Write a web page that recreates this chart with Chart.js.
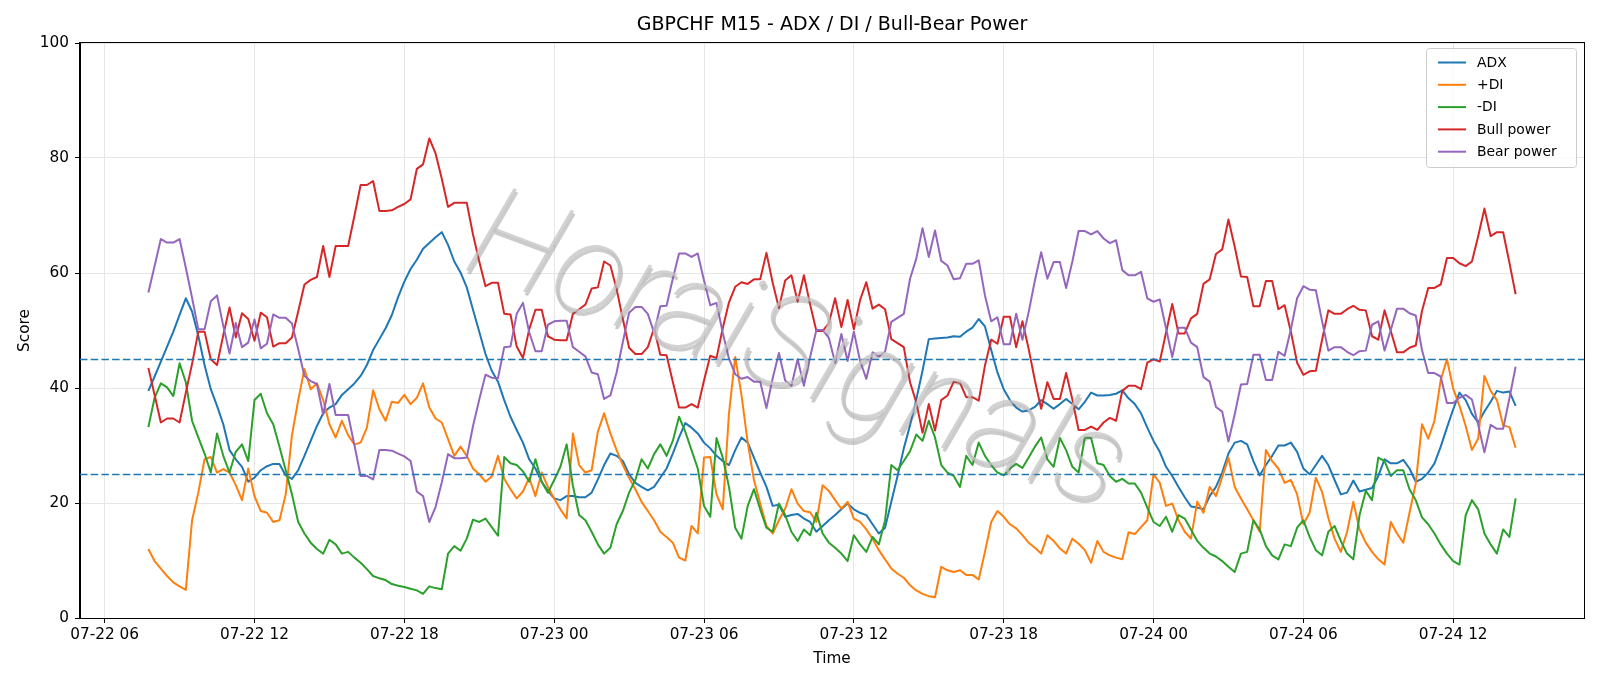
<!DOCTYPE html>
<html>
<head>
<meta charset="utf-8">
<title>GBPCHF M15 - ADX / DI / Bull-Bear Power</title>
<script src="https://cdn.jsdelivr.net/npm/chart.js@4.4.1/dist/chart.umd.min.js"></script>
<style>
  html, body { margin: 0; padding: 0; background: #fff; }
  #wrap { width: 1600px; height: 686px; }
</style>
</head>
<body>
<div id="wrap"><canvas id="chart" width="1600" height="686"></canvas></div>
<script>
// M15 bars from 07-22 07:45 to 07-24 14:30 (x = minutes after 07-22 00:00)
const startMinute = 7 * 60 + 45;
const barMinutes = 15;

const adx = [
  39.5, 42, 44.6, 47.2, 49.8, 52.7, 55.6, 53.3, 49.1, 44,
  39.8, 36.9, 33.7, 29.2, 27.6, 26.3, 23.7, 24.4, 25.7, 26.4,
  26.8, 26.8, 24.8, 24.2, 25.7, 28.2, 30.8, 33.4, 35.6, 36.6,
  37.2, 38.8, 39.8, 40.8, 42.1, 44, 46.6, 48.5, 50.4, 52.7,
  55.8, 58.5, 60.7, 62.3, 64.2, 65.2, 66.2, 67.1, 64.9, 62,
  60.1, 57.5, 53.6, 49.8, 45.9, 43, 41.1, 37.9, 35, 32.7,
  30.5, 27.6, 26, 23.7, 22.1, 20.8, 20.5, 21.2, 21.2, 21,
  21, 21.8, 24.1, 26.6, 28.6, 28.2, 27.3, 25, 23.5, 22.8,
  22.2, 22.8, 24.4, 26, 28.6, 31.4, 33.9, 33.1, 32.1, 30.5,
  29.5, 28.2, 27.3, 26.6, 29.2, 31.4, 30.5, 27.9, 25.3, 22.8,
  19.5, 19.7, 17.6, 17.9, 18.1, 17.3, 16.7, 15, 16, 17,
  17.9, 18.9, 19.9, 18.9, 18.3, 17.9, 16.3, 14.7, 15.7, 20.2,
  24.7, 29.5, 33.5, 38, 43, 48.5, 48.6, 48.7, 48.8, 49,
  48.9, 49.8, 50.5, 52, 50.7, 46.6, 42.7, 39.8, 37.9, 36.6,
  35.9, 36.1, 36.7, 37.9, 37.2, 36.4, 37.2, 38.1, 37.2, 36.3,
  37.6, 39.2, 38.7, 38.7, 38.8, 39, 39.6, 38.2, 37.2, 35.6,
  33.1, 30.8, 28.9, 26.3, 24.7, 22.8, 21, 19.4, 19.2, 18.9,
  21.2, 22.8, 25.3, 28.6, 30.5, 30.8, 30.2, 27.3, 24.8, 26.6,
  28.2, 30, 30, 30.5, 28.9, 26, 25, 26.6, 28.2, 26.6,
  24, 21.5, 21.8, 23.9, 22, 22.3, 22.6, 24.7, 27.6, 26.9,
  26.9, 27.5, 26, 23.7, 24.2, 25.3, 26.9, 29.8, 33.1, 36.3,
  39.2, 37.9, 35.5, 34, 35.9, 37.6, 39.5, 39.2, 39.4, 36.9
];

const plusDI = [
  12, 9.9, 8.6, 7.3, 6.2, 5.5, 4.9, 17, 21.8, 27.6,
  28, 25.3, 25.9, 25.3, 23.1, 20.5, 26, 21.2, 18.6, 18.3,
  16.7, 17, 21.5, 31.8, 37.9, 43.3, 39.8, 40.8, 37.9, 33.7,
  31.4, 34.3, 31.8, 30.2, 30.5, 33.1, 39.6, 36.3, 34.3, 37.6,
  37.4, 38.8, 37.2, 38.3, 40.8, 36.6, 34.7, 34, 31.1, 28.2,
  29.8, 28.2, 26, 25, 23.7, 24.6, 28.2, 24.2, 22.4, 20.8,
  22, 24.4, 21.2, 25.3, 22.8, 20.8, 18.9, 17.3, 32.1, 26.6,
  25.3, 25.7, 32.4, 35.6, 32.1, 29.2, 26.6, 24.4, 22.4, 20.2,
  18.6, 17, 15, 14.1, 13.1, 10.5, 10, 16, 14.7, 27.9,
  28, 21.5, 18.9, 35.6, 45.4, 38.8, 30.5, 24, 19.9, 16,
  14.7, 17, 19, 22.4, 19.9, 18.6, 18.4, 16.7, 23.1, 22.1,
  20.5, 19, 20.2, 17.3, 16.7, 15.4, 13.8, 11.8, 10.2, 8.6,
  7.7, 7, 5.7, 4.8, 4.2, 3.8, 3.6, 8.9, 8.3, 8,
  8.3, 7.5, 7.5, 6.7, 11.5, 16.7, 18.6, 17.6, 16.3, 15.6,
  14.4, 13.1, 12.2, 11.2, 14.4, 13.4, 12.1, 11.2, 13.8, 12.9,
  11.8, 9.6, 13.4, 11.5, 10.9, 10.5, 10.2, 14.9, 14.6, 15.8,
  17, 25, 23.5, 19.5, 19.9, 17, 15, 13.8, 20.2, 18.3,
  22.8, 21.2, 24.5, 27.9, 22.8, 20.8, 18.9, 17, 15, 29.2,
  27.3, 26, 23.5, 24, 21.5, 16.3, 18.3, 24.4, 21.9, 17.4,
  13.8, 11.5, 15, 20.2, 15.4, 13.1, 11.5, 10.2, 9.3, 16.7,
  14.7, 13.1, 18.3, 23.4, 33.7, 31.2, 34.3, 41.4, 45, 39.9,
  36.9, 33.4, 29.2, 31.2, 42.1, 39.5, 37.9, 33.5, 33.2, 29.6
];

const minusDI = [
  33.2, 38.3, 40.8, 40.1, 38.6, 44.3, 41, 34.3, 31.4, 28.6,
  25.3, 32.1, 28.2, 25.3, 28.9, 30.2, 27.3, 37.9, 39, 35.6,
  33.7, 29.8, 25.7, 21.5, 16.7, 14.7, 13.1, 12, 11.2, 13.6,
  12.8, 11.2, 11.5, 10.5, 9.6, 8.5, 7.3, 6.9, 6.6, 5.9,
  5.6, 5.4, 5.1, 4.8, 4.2, 5.5, 5.2, 5, 11.2, 12.5,
  11.7, 13.8, 17.1, 16.7, 17.3, 15.8, 14.3, 28, 26.9, 26.6,
  25.5, 23.7, 27.6, 23.7, 21.8, 24, 26.3, 30.2, 23, 17.9,
  17, 15, 12.8, 11.2, 12.2, 16.3, 18.6, 21.8, 24, 27.6,
  26, 28.5, 30.2, 28.2, 30.8, 35, 32.4, 29.2, 26, 19.5,
  17.6, 31.3, 27.9, 22.8, 15.7, 13.8, 19.5, 22.4, 18.9, 15.7,
  15, 19.9, 17.9, 15, 13.4, 15.4, 14.4, 18.3, 14.7, 13.1,
  12.2, 11.2, 9.9, 14.4, 12.8, 11.5, 14.1, 12.8, 17, 26.6,
  25.7, 27.3, 29, 31.9, 30.8, 34.3, 31.4, 26.6, 25.3, 24.7,
  22.8, 28.2, 26.6, 30.5, 28.2, 26.6, 25.3, 24.8, 26, 26.8,
  26.1, 27.9, 29.8, 31.4, 27.6, 26.3, 31.3, 29.2, 26.3, 25.3,
  31.4, 31.3, 26.9, 26.6, 24.7, 23.7, 24.2, 23.4, 23.4, 21.8,
  19.2, 16.7, 16, 17.6, 15, 17.9, 17.3, 15.4, 13.4, 12.2,
  11.2, 10.7, 9.9, 8.9, 8, 11.2, 11.5, 17, 15.4, 12.5,
  10.9, 10.2, 12.8, 12.5, 15.7, 17, 14.1, 11.8, 10.9, 15,
  16, 13.4, 11.2, 10.2, 17.9, 22.1, 20.5, 27.9, 27.3, 24.7,
  25.7, 25.7, 22.4, 20.5, 17.5, 16.3, 14.7, 12.8, 11.2, 9.9,
  9.3, 17.9, 20.5, 18.9, 14.7, 12.8, 11.2, 15.4, 14.1, 20.8
];

const bullPower = [
  43.5, 38.8, 34, 34.7, 34.7, 34, 39.2, 44.2, 49.8, 49.8,
  45, 44, 49.2, 54, 48.8, 53, 52, 48.2, 53.1, 52.3,
  47.2, 47.8, 47.8, 48.8, 53.3, 58, 58.8, 59.3, 64.7, 59.3,
  64.7, 64.7, 64.7, 69.9, 75.3, 75.3, 76, 70.8, 70.8, 70.9,
  71.5, 72, 72.8, 78.1, 78.9, 83.4, 80.8, 76.4, 71.5, 72.2,
  72.2, 72.2, 66.7, 62, 57.7, 58.3, 58.3, 52.9, 52.8, 47.2,
  45.2, 50.2, 53.6, 53.6, 49, 48.4, 48.3, 48.3, 52.9, 53.7,
  54.5, 57.3, 57.5, 62, 61.3, 57.2, 52, 47, 45.9, 45.9,
  47.1, 50.4, 45.8, 45.7, 41.1, 36.6, 36.6, 37.2, 36.6, 41.3,
  45.6, 45.2, 50.4, 54.9, 57.6, 58.4, 58.1, 58.9, 58.9, 63.5,
  58.3, 53.9, 58.7, 59.6, 55, 59.6, 54.5, 49.9, 49.9, 51.3,
  55.6, 50.6, 55.3, 50.2, 55.3, 58.4, 53.8, 54.5, 53.7, 48.5,
  47.8, 47.1, 41, 37.5, 32.2, 37.2, 32.6, 37.9, 38.7, 41.1,
  40.9, 38.4, 38.4, 37.8, 43.9, 48.4, 47.7, 52.4, 52.4, 47.1,
  51.6, 46.8, 41.3, 36.4, 41, 38.1, 38.1, 42.6, 38, 32.7,
  32.7, 33.3, 32.7, 34, 34.8, 34.3, 39.5, 40.4, 40.4, 39.8,
  44.4, 45, 44.6, 49.6, 54.6, 49.5, 49.5, 52.1, 52.9, 58.1,
  58.9, 63.3, 64.1, 69.3, 64.6, 59.4, 59.3, 54.2, 54.2, 58.6,
  58.6, 53.7, 54.4, 49.8, 44.4, 42.3, 42.9, 43, 48.4, 53.5,
  52.9, 52.9, 53.7, 54.3, 53.6, 53.5, 49, 48.4, 53.5, 49.9,
  46.2, 46.2, 47, 47.4, 53.4, 57.4, 57.4, 58, 62.6, 62.6,
  61.7, 61.2, 62, 66.4, 71.2, 66.4, 67.1, 67.1, 61.8, 56.3
];

const bearPower = [
  56.6, 61.2, 65.9, 65.3, 65.3, 65.9, 60.9, 55.7, 50.2, 50.2,
  55.1, 56.1, 50.8, 46, 51.3, 47.1, 47.9, 51.9, 46.9, 47.7,
  52.8, 52.2, 52.2, 51.2, 46.8, 42.1, 41.2, 40.7, 35.4, 40.7,
  35.3, 35.3, 35.3, 30.1, 24.7, 24.7, 24.1, 29.2, 29.2, 29.1,
  28.6, 28.1, 27.3, 22, 21.2, 16.7, 19.3, 23.6, 28.5, 27.8,
  27.8, 27.9, 33.4, 38, 42.3, 41.8, 41.7, 47.1, 47.2, 52.9,
  54.8, 49.7, 46.4, 46.4, 51, 51.6, 51.7, 51.7, 47.1, 46.3,
  45.5, 42.7, 42.4, 38.1, 38.7, 42.7, 48, 53.1, 54.1, 54.1,
  52.9, 49.6, 54.2, 54.3, 59, 63.4, 63.4, 62.8, 63.4, 58.7,
  54.4, 54.8, 49.6, 45.1, 42.4, 41.6, 41.9, 41.1, 41.1, 36.5,
  41.7, 46.1, 41.3, 40.4, 45, 40.4, 45.4, 50.1, 50.1, 48.7,
  44.4, 49.4, 44.7, 49.8, 44.7, 41.6, 46.2, 45.5, 46.3, 51.5,
  52.2, 52.9, 59, 62.5, 67.8, 62.8, 67.4, 62.1, 61.3, 58.9,
  59.1, 61.6, 61.6, 62.2, 56.1, 51.6, 52.3, 47.6, 47.6, 52.9,
  48.4, 53.2, 58.7, 63.6, 59, 61.9, 61.9, 57.4, 62, 67.3,
  67.3, 66.7, 67.3, 66, 65.2, 65.7, 60.5, 59.6, 59.6, 60.2,
  55.6, 55, 55.4, 50.4, 45.4, 50.5, 50.5, 47.9, 47.1, 41.9,
  41.1, 36.7, 35.9, 30.7, 35.4, 40.6, 40.7, 45.8, 45.8, 41.4,
  41.4, 46.3, 45.6, 50.2, 55.6, 57.7, 57.1, 57, 51.6, 46.5,
  47.1, 47.1, 46.3, 45.7, 46.4, 46.5, 51, 51.6, 46.5, 50.1,
  53.8, 53.8, 53, 52.6, 46.6, 42.6, 42.6, 42, 37.4, 37.4,
  38.3, 38.8, 38, 33.6, 28.8, 33.6, 32.9, 32.9, 38.2, 43.7
];

const seriesNames = ['ADX', '+DI', '-DI', 'Bull power', 'Bear power'];
const seriesColors = ['#1f77b4', '#ff7f0e', '#2ca02c', '#d62728', '#9467bd'];
const levels = [45, 25];
const yTicks = [0, 20, 40, 60, 80, 100];
const xTickMinutes = [360, 720, 1080, 1440, 1800, 2160, 2520, 2880, 3240, 3600];
const titleText = 'GBPCHF M15 - ADX / DI / Bull-Bear Power';
const watermarkText = 'HoraiSignals';

const times = adx.map((_, i) => startMinute + i * barMinutes);
const allSeries = [adx, plusDI, minusDI, bullPower, bearPower];

const span = times[times.length - 1] - times[0];
const xMin = times[0] - span * 0.05;
const xMax = times[times.length - 1] + span * 0.05;

const FONT = '"DejaVu Sans", "Liberation Sans", sans-serif';

function fmtTick(v) {
  const day = 22 + Math.floor(v / 1440);
  const hour = Math.floor((v % 1440) / 60);
  return '07-' + day + ' ' + String(hour).padStart(2, '0');
}

const datasets = allSeries.map((vals, k) => ({
  label: seriesNames[k],
  data: vals.map((v, i) => ({ x: times[i], y: v })),
  borderColor: seriesColors[k],
  backgroundColor: seriesColors[k],
  borderWidth: 2,
  pointRadius: 0,
  tension: 0,
  fill: false,
  borderJoinStyle: 'round',
  order: 5 - k   // later series drawn on top, like matplotlib
}));

const extras = {
  id: 'extras',
  afterDatasetsDraw(chart) {
    const { ctx, chartArea: a, scales } = chart;
    // reference levels
    ctx.save();
    ctx.beginPath();
    ctx.rect(a.left, a.top, a.right - a.left, a.bottom - a.top);
    ctx.clip();
    ctx.strokeStyle = '#1f77b4';
    ctx.lineWidth = 1.6;
    ctx.setLineDash([7.5, 3.2]);
    levels.forEach(v => {
      const y = Math.round(scales.y.getPixelForValue(v)) + 0.5;
      ctx.beginPath();
      ctx.moveTo(a.left, y);
      ctx.lineTo(a.right, y);
      ctx.stroke();
    });
    ctx.setLineDash([]);

    // watermark: thin light-gray lettering with a soft shadow
    ctx.translate(795, 358);
    ctx.rotate(20.5 * Math.PI / 180);
    const wmFont = s => 'italic 100 ' + s + 'px Roboto, ' + FONT;
    ctx.font = wmFont(100);
    const size = 100 * 690 / ctx.measureText(watermarkText).width;
    ctx.font = wmFont(size.toFixed(1));
    ctx.textAlign = 'center';
    ctx.textBaseline = 'middle';
    ctx.fillStyle = 'rgba(110,110,110,0.35)';
    ctx.fillText(watermarkText, 2.5, 2.5);
    ctx.fillStyle = 'rgba(195,195,195,0.75)';
    ctx.fillText(watermarkText, 0, 0);
    ctx.restore();
  },
  afterDraw(chart) {
    const { ctx, chartArea: a } = chart;
    ctx.save();
    // frame
    ctx.strokeStyle = '#000';
    ctx.lineWidth = 1;
    ctx.strokeRect(Math.round(a.left) - 0.5, Math.round(a.top) - 0.5,
                   Math.round(a.right - a.left) + 1, Math.round(a.bottom - a.top) + 1);

    // title
    ctx.fillStyle = '#000';
    ctx.font = '19px ' + FONT;
    ctx.textAlign = 'center';
    ctx.textBaseline = 'middle';
    ctx.fillText(titleText, (a.left + a.right) / 2, 25.5);

    // legend
    const fs = 13.9;
    ctx.font = fs + 'px ' + FONT;
    const rowH = 22.3;
    const bx = 1426, by = 48, bw = 150, bh = 4 * rowH + 2 * fs * 0.4 + fs * 1.2 + 2;
    ctx.beginPath();
    ctx.roundRect(bx + 0.5, by + 0.5, bw, bh, 3);
    ctx.fillStyle = 'rgba(255,255,255,0.8)';
    ctx.fill();
    ctx.strokeStyle = '#cccccc';
    ctx.lineWidth = 1;
    ctx.stroke();
    ctx.textAlign = 'left';
    seriesNames.forEach((name, k) => {
      const y = 62.5 + k * rowH;
      ctx.strokeStyle = seriesColors[k];
      ctx.lineWidth = 2;
      ctx.beginPath();
      ctx.moveTo(1438, y);
      ctx.lineTo(1466, y);
      ctx.stroke();
      ctx.fillStyle = '#000';
      ctx.fillText(name, 1477, y + 0.5);
    });
    ctx.restore();
  }
};

new Chart(document.getElementById('chart'), {
  type: 'line',
  data: { datasets },
  options: {
    responsive: false,
    animation: false,
    devicePixelRatio: 1,
    layout: { padding: { top: 43, right: 16, left: 0, bottom: 0 } },
    plugins: {
      legend: { display: false },
      tooltip: { enabled: false },
      title: { display: false }
    },
    scales: {
      x: {
        type: 'linear',
        min: xMin,
        max: xMax,
        afterBuildTicks(scale) { scale.ticks = xTickMinutes.map(v => ({ value: v })); },
        afterFit(scale) { scale.height = 68; },
        ticks: {
          autoSkip: false,
          maxRotation: 0,
          padding: 3,
          color: '#000',
          font: { family: FONT, size: 15.3 },
          callback: v => fmtTick(v)
        },
        grid: { color: '#e6e6e6', lineWidth: 1, tickColor: '#000', tickLength: 5 },
        border: { display: true, color: '#000', width: 1 },
        title: {
          display: true, text: 'Time', color: '#000',
          font: { family: FONT, size: 15.3 },
          padding: { top: 0, bottom: 18 }
        }
      },
      y: {
        min: 0,
        max: 100,
        afterBuildTicks(scale) { scale.ticks = yTicks.map(v => ({ value: v })); },
        afterFit(scale) { scale.width = 80; },
        ticks: {
          padding: 6,
          color: '#000',
          font: { family: FONT, size: 15.3 }
        },
        grid: { color: '#e6e6e6', lineWidth: 1, tickColor: '#000', tickLength: 5 },
        border: { display: true, color: '#000', width: 1 },
        title: {
          display: true, text: 'Score', color: '#000',
          font: { family: FONT, size: 15.3 },
          padding: { top: 16, bottom: 0 }
        }
      }
    }
  },
  plugins: [extras]
});
</script>
</body>
</html>
